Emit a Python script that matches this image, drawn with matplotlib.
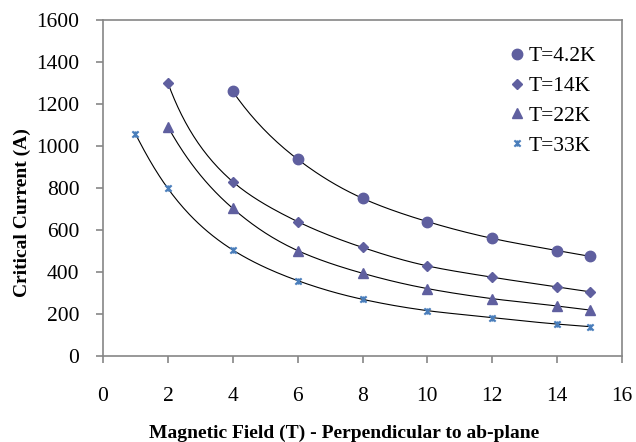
"""
Critical current vs magnetic field, with smoothed lines through the points.
"""

import matplotlib
matplotlib.use('Agg')
import matplotlib.pyplot as plt
import numpy as np
from matplotlib.path import Path

plt.rcParams['font.family'] = ['Liberation Serif', 'DejaVu Serif']

# data
field_42 = [4, 6, 8, 10, 12, 14, 15]
ic_42 = [1260, 937, 751, 640, 560, 502, 475]

field_14 = [2, 4, 6, 8, 10, 12, 14, 15]
ic_14 = [1301, 830, 640, 517, 429, 375, 329, 306]

field_22 = [2, 4, 6, 8, 10, 12, 14, 15]
ic_22 = [1092, 703, 502, 394, 321, 273, 238, 219]

field_33 = [1, 2, 4, 6, 8, 10, 12, 14, 15]
ic_33 = [1057, 798, 505, 359, 270, 216, 183, 152, 140]

labels = ['T=4.2K', 'T=14K', 'T=22K', 'T=33K']

purple = '#5f5f9f'
blue = '#4a7ebb'
grey = '#868686'

# excel style star marker: an x with a vertical bar through it
star = Path([(-1, -1), (1, 1), (-1, 1), (1, -1), (0, -1), (0, 1)],
            [Path.MOVETO, Path.LINETO, Path.MOVETO, Path.LINETO,
             Path.MOVETO, Path.LINETO])


def smooth_curve(x, y, n=30):
    # cubic hermite through the points in log-log space, sampled for drawing
    lx = np.log(np.asarray(x, dtype=float))
    ly = np.log(np.asarray(y, dtype=float))
    h = np.diff(lx)
    d = np.diff(ly) / h
    m = np.empty_like(ly)
    m[1:-1] = (h[1:] * d[:-1] + h[:-1] * d[1:]) / (h[:-1] + h[1:])
    m[0] = ((2 * h[0] + h[1]) * d[0] - h[0] * d[1]) / (h[0] + h[1])
    m[-1] = ((2 * h[-1] + h[-2]) * d[-1] - h[-1] * d[-2]) / (h[-1] + h[-2])
    xs, ys = [], []
    t = np.linspace(0, 1, n)
    for i in range(len(lx) - 1):
        h00 = 2 * t**3 - 3 * t**2 + 1
        h10 = t**3 - 2 * t**2 + t
        h01 = -2 * t**3 + 3 * t**2
        h11 = t**3 - t**2
        seg = (h00 * ly[i] + h10 * h[i] * m[i] + h01 * ly[i + 1]
               + h11 * h[i] * m[i + 1])
        xs.append(lx[i] + t * h[i])
        ys.append(seg)
    return np.exp(np.concatenate(xs)), np.exp(np.concatenate(ys))


series = [
    (field_42, ic_42, labels[0], 'o', purple, 7.5),
    (field_14, ic_14, labels[1], 'D', purple, 5.5),
    (field_22, ic_22, labels[2], '^', purple, 7.5),
    (field_33, ic_33, labels[3], star, blue, 4.5),
]

fig = plt.figure(figsize=(6.36, 4.42), dpi=100)
ax = fig.add_axes([103 / 636, 1 - 356 / 442, 519 / 636, 336 / 442])

for x, y, lab, mk, col, ms in series:
    cx, cy = smooth_curve(x, y)
    ax.plot(cx, cy, color='black', lw=0.8, zorder=2)
    if mk is star:
        ax.plot(x, y, linestyle='none', marker=mk, color=col, ms=ms,
                mew=1.5, label=lab, zorder=3)
    else:
        ax.plot(x, y, linestyle='none', marker=mk, color=col, ms=ms,
                mec=col, label=lab, zorder=3)

ax.set_xlim(0, 16)
ax.set_ylim(0, 1600)
ax.set_xticks(np.arange(0, 17, 2))
ax.set_yticks(np.arange(0, 1601, 200))

for s in ax.spines.values():
    s.set_color(grey)
    s.set_linewidth(1.2)
ax.tick_params(axis='both', colors=grey, labelcolor='black', direction='out',
               length=5, width=1.2, labelsize=15.5)
ax.tick_params(axis='x', pad=17)
ax.tick_params(axis='y', pad=12)

ax.set_xlabel('Magnetic Field (T) - Perpendicular to ab-plane',
              fontsize=14, fontweight='bold')
ax.set_ylabel('Critical Current (A)', fontsize=14, fontweight='bold')
ax.xaxis.set_label_coords(0.464, -0.204)
ax.yaxis.set_label_coords(-0.139, 0.426)

leg = ax.legend(loc='upper right', bbox_to_anchor=(0.975, 0.96),
                frameon=False, fontsize=15.5, handlelength=0.6,
                handletextpad=0.25, labelspacing=0.45, borderaxespad=0.2)

plt.savefig('out.png', dpi=100)
